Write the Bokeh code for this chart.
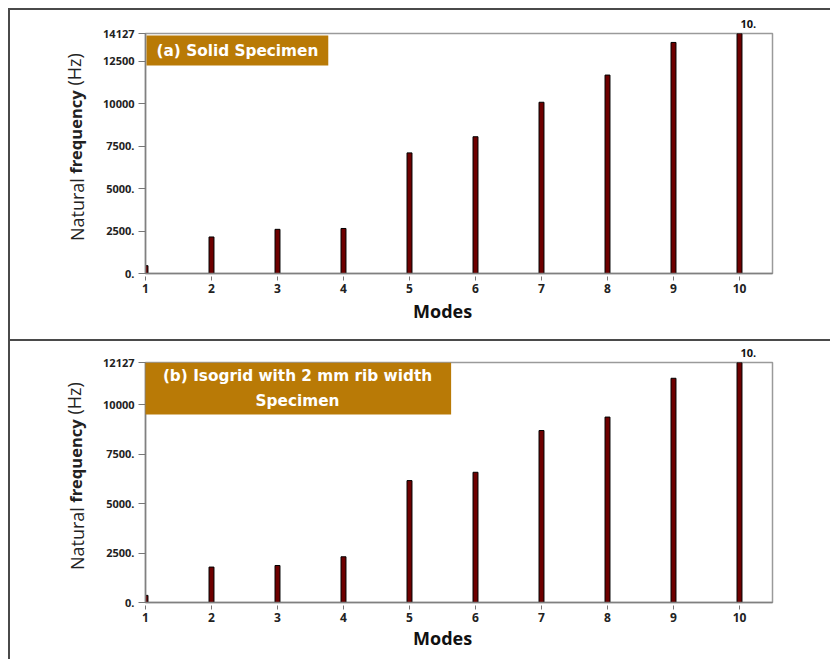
from bokeh.plotting import figure
from bokeh.models import Range1d, FixedTicker, Label, LinearAxis
from bokeh.layouts import column
from bokeh.embed import file_html
from bokeh.resources import INLINE

modes = [1, 2, 3, 4, 5, 6, 7, 8, 9, 10]
mode_labels = ["1", "2", "3", "4", "5", "6", "7", "8", "9", "10"]

solid_freq = [460, 2150, 2600, 2650, 7100, 8050, 10080, 11680, 13600, 14127]
isogrid_freq = [360, 1790, 1870, 2310, 6160, 6580, 8690, 9370, 11330, 12127]

solid_yticks = [0, 2500, 5000, 7500, 10000, 12500, 14127]
solid_ytick_labels = ["0.", "2500.", "5000.", "7500.", "10000", "12500", "14127"]
iso_yticks = [0, 2500, 5000, 7500, 10000, 12127]
iso_ytick_labels = ["0.", "2500.", "5000.", "7500.", "10000", "12127"]

title_a = "(a) Solid Specimen"
title_b = "(b) Isogrid with 2 mm rib width\nSpecimen"
x_title = "Modes"
y_title_parts = ["Natural", "frequency", "(Hz)"]
peak_label = "10."

FONT = "Open Sans"
BOXFONT = "DejaVu Sans"
BOX = "#B97A06"
BAR = "#6E0000"
NB = "\u00a0"

# non-breaking-space padding that shifts each centred axis-label piece along its axis
y_title_pads = [(0, 24), (10, 0), (36, 0)]
y_title_styles = ["normal", "bold", "normal"]
y_title_sizes = ["18px", "16.5px", "18px"]
x_title_pad = (0, 7)


def label_axis(text, style, size, standoff, color):
    return LinearAxis(ticker=FixedTicker(ticks=[]), axis_label=text,
                      axis_line_color=None, major_tick_line_color=None,
                      minor_tick_line_color=None, major_tick_in=0, major_tick_out=0,
                      axis_label_standoff=standoff, axis_label_text_font=FONT,
                      axis_label_text_font_style=style, axis_label_text_font_size=size,
                      axis_label_text_color=color)


def panel(freq, yticks, ytick_labels, title, width, height, mb_top, mb_bottom, mb_right,
          title_off, title_pad, title_lh, modes_standoff):
    ymax = yticks[-1]
    p = figure(width=width, height=height, output_backend="svg", toolbar_location=None,
               x_range=Range1d(1, 10.5), y_range=Range1d(0, ymax),
               min_border_left=135, min_border_right=mb_right,
               min_border_top=mb_top, min_border_bottom=mb_bottom,
               background_fill_color="white", border_fill_color="white",
               styles={"border-top": "2px solid #4a4a4a", "border-left": "2px solid #4a4a4a"})
    p.xgrid.visible = False
    p.ygrid.visible = False
    p.outline_line_color = "#9a9a9a"
    p.outline_line_width = 1.5

    p.vbar(x=modes, top=freq, width=0.075, fill_color=BAR, line_color="black", line_width=1)

    xa = p.xaxis[0]
    ya = p.yaxis[0]
    for ax in (xa, ya):
        ax.axis_line_color = "#808080"
        ax.axis_line_width = 1.5
        ax.major_tick_line_color = "#777777"
        ax.minor_tick_line_color = None
        ax.major_label_text_font = FONT
        ax.major_label_text_font_style = "bold"
        ax.major_label_text_color = "#222222"

    xa.ticker = FixedTicker(ticks=modes)
    xa.major_label_overrides = {m: l for m, l in zip(modes, mode_labels)}
    xa.major_tick_in = -3
    xa.major_tick_out = 7
    xa.major_label_standoff = 3
    xa.major_label_text_font_size = "12px"

    ya.ticker = FixedTicker(ticks=yticks)
    ya.major_label_overrides = {t: l for t, l in zip(yticks, ytick_labels)}
    ya.major_tick_in = 0
    ya.major_tick_out = 7
    ya.major_label_standoff = 4
    ya.major_label_text_font_size = "11px"

    # peak label above the frame
    p.title.text = peak_label
    p.title.align = "left"
    p.title.offset = 595
    p.title.standoff = 8
    p.title.vertical_align = "top"
    p.title.text_font = FONT
    p.title.text_font_style = "bold"
    p.title.text_font_size = "11px"
    p.title.text_color = "#111111"

    # title box inside the frame
    p.add_layout(Label(x=1, y=ymax, x_offset=title_off[0], y_offset=title_off[1],
                       text=title, text_font=BOXFONT, text_font_style="bold",
                       text_font_size="15.3px", text_color="white", text_line_height=title_lh,
                       text_align=title_off[2], text_baseline="top",
                       background_fill_color=BOX, padding=title_pad))

    # x title ("Modes")
    xt = NB * x_title_pad[0] + x_title + NB * x_title_pad[1]
    p.add_layout(label_axis(xt, "bold", "18px", modes_standoff, "#111111"), "below")

    # y title in three weights, each on a label-only axis at the same place
    standoffs = [12, -25, -25]
    for txt, (pre, post), so, style, size in zip(y_title_parts, y_title_pads, standoffs,
                                                  y_title_styles, y_title_sizes):
        p.add_layout(label_axis(NB * pre + txt + NB * post, style, size, so, "#222222"), "left")
    return p


p1 = panel(solid_freq, solid_yticks, solid_ytick_labels, title_a, 822, 331, 23, 68, 58,
           (1, -2, "left"), (10, 6), 1.0, 3)
p2 = panel(isogrid_freq, iso_yticks, iso_ytick_labels, title_b, 822, 320, 21, 59, 60,
           (152, 0, "center"), (19, 4), 1.44, 1)

layout = column(p1, p2, spacing=0)
layout.margin = (8, 0, 0, 8)
open("out.html", "w").write(file_html(layout, INLINE))
